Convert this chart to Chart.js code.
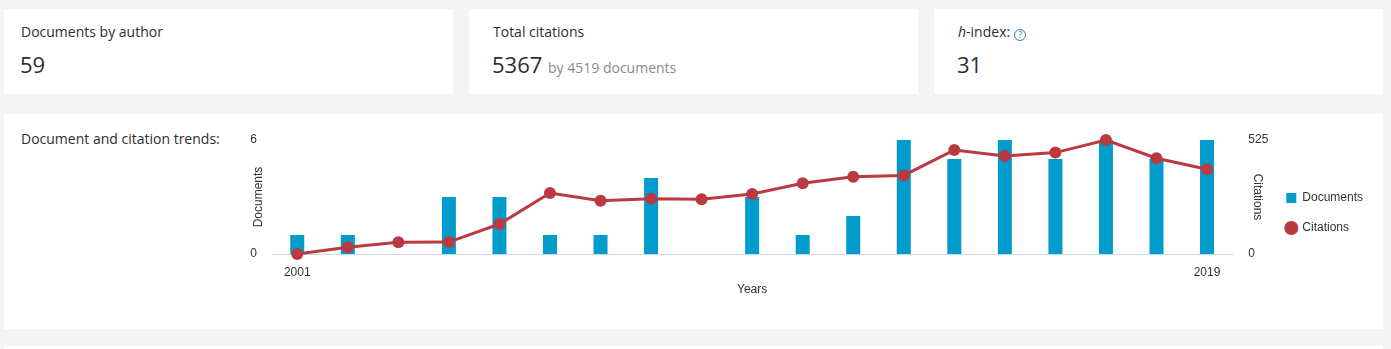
<!DOCTYPE html>
<html>
<head>
<meta charset="utf-8">
<script src="https://cdn.jsdelivr.net/npm/chart.js@4.4.1/dist/chart.umd.min.js"></script>
<style>
  body { margin: 0; width: 1391px; height: 349px; overflow: hidden; background: #f4f4f4; font-family: "Open Sans", sans-serif; color: #2e2e2e; position: relative; }
  .card { position: absolute; background: #fff; }
  .lbl { position: absolute; font-size: 14px; line-height: 18px; white-space: nowrap; }
  .big { position: absolute; font-size: 22px; line-height: 26px; white-space: nowrap; }
  .sub { font-size: 14px; color: #8a8a8a; }
  .help { display: inline-block; width: 10px; height: 10px; border: 1px solid #2f7ea8; border-radius: 50%; color: #2f7ea8; font-size: 9px; line-height: 10px; text-align: center; vertical-align: -1px; margin-left: 4px; }
  #chartBox { position: absolute; left: 240px; top: 114px; }
</style>
</head>
<body>
<div class="card" style="left:4px;top:9px;width:449px;height:85px"></div>
<div class="card" style="left:469px;top:9px;width:449px;height:85px"></div>
<div class="card" style="left:934px;top:9px;width:449px;height:85px"></div>
<div class="card" style="left:4px;top:114px;width:1379px;height:215px"></div>
<div class="card" style="left:4px;top:346px;width:1379px;height:10px"></div>

<div class="lbl" style="left:21px;top:23px">Documents by author</div>
<div class="big" style="left:20px;top:51px">59</div>

<div class="lbl" style="left:493px;top:23px">Total citations</div>
<div class="big" style="left:492px;top:51px">5367 <span class="sub">by 4519 documents</span></div>

<div class="lbl" style="left:958px;top:23px"><i>h</i>-index:<span class="help">?</span></div>
<div class="big" style="left:957px;top:51px">31</div>

<div class="lbl" style="left:21px;top:130px">Document and citation trends:</div>

<div id="chartBox"><canvas id="trendChart" width="1143" height="187"></canvas></div>

<script>
const years = ["2001", "2002", "2003", "2004", "2005", "2006", "2007", "2008", "2009", "2010",
  "2011", "2012", "2013", "2014", "2015", "2016", "2017", "2018", "2019"];
const documents = [1, 1, 0, 3, 3, 1, 1, 4, 0, 3, 1, 2, 6, 5, 6, 5, 6, 5, 6];
const citations = [0, 31, 54, 55, 138, 281, 245, 255, 252, 276, 326, 356, 362, 479, 451, 467, 525, 441, 390];
const docTicks = [0, 6];
const citeTicks = [0, 525];
const shownYears = ["2001", "2019"];

const axisFont = { family: "Liberation Sans, Arial, sans-serif", size: 12 };
const textColor = "#333333";

new Chart(document.getElementById("trendChart"), {
  data: {
    labels: years,
    datasets: [
      {
        type: "bar",
        label: "Documents",
        data: documents,
        yAxisID: "y",
        backgroundColor: "#009ccc",
        barThickness: 14,
        inflateAmount: 0,
        pointStyle: "rect",
        order: 2
      },
      {
        type: "line",
        label: "Citations",
        data: citations,
        yAxisID: "y1",
        borderColor: "#b93a40",
        backgroundColor: "#b93a40",
        borderWidth: 3,
        pointRadius: 6,
        pointBorderWidth: 0,
        pointBackgroundColor: "#b93a40",
        pointStyle: "circle",
        tension: 0,
        clip: false,
        order: 1
      }
    ]
  },
  options: {
    responsive: false,
    animation: false,
    layout: { padding: { left: 7, top: 26, right: 10, bottom: 0 } },
    scales: {
      x: {
        type: "category",
        offset: true,
        grid: { display: false, drawTicks: false },
        border: { display: true, color: "#ccd6eb", width: 1 },
        ticks: {
          autoSkip: false,
          maxRotation: 0,
          padding: 11,
          color: textColor,
          font: axisFont,
          callback: function (v) {
            const l = this.getLabelForValue(v);
            return shownYears.includes(l) ? l : "";
          }
        },
        title: { display: true, text: "Years", color: textColor, font: axisFont, padding: { top: 0, bottom: 4 } },
        afterFit: s => { s.height = 47; }
      },
      y: {
        position: "left",
        min: 0,
        max: 6,
        afterBuildTicks: s => { s.ticks = docTicks.map(v => ({ value: v })); },
        grid: { display: false, drawTicks: false },
        border: { display: false },
        ticks: { padding: 15, color: textColor, font: axisFont },
        title: { display: true, text: "Documents", color: textColor, font: axisFont },
        afterFit: s => { s.width = 25; }
      },
      y1: {
        position: "right",
        min: 0,
        max: 525,
        afterBuildTicks: s => { s.ticks = citeTicks.map(v => ({ value: v })); },
        grid: { display: false, drawTicks: false },
        border: { display: false },
        ticks: { padding: 16, color: textColor, font: axisFont },
        title: { display: true, text: "Citations", color: textColor, font: axisFont },
        afterFit: s => { s.width = 36; }
      }
    },
    plugins: {
      tooltip: { enabled: false },
      legend: {
        position: "right",
        fullSize: false,
        align: "center",
        title: { display: true, text: " ", padding: 10, font: { size: 10 } },
        labels: {
          usePointStyle: true,
          boxWidth: 10,
          boxHeight: 10,
          padding: 18,
          color: textColor,
          font: axisFont,
          sort: (a, b) => a.datasetIndex - b.datasetIndex
        }
      }
    }
  }
});
</script>
</body>
</html>
